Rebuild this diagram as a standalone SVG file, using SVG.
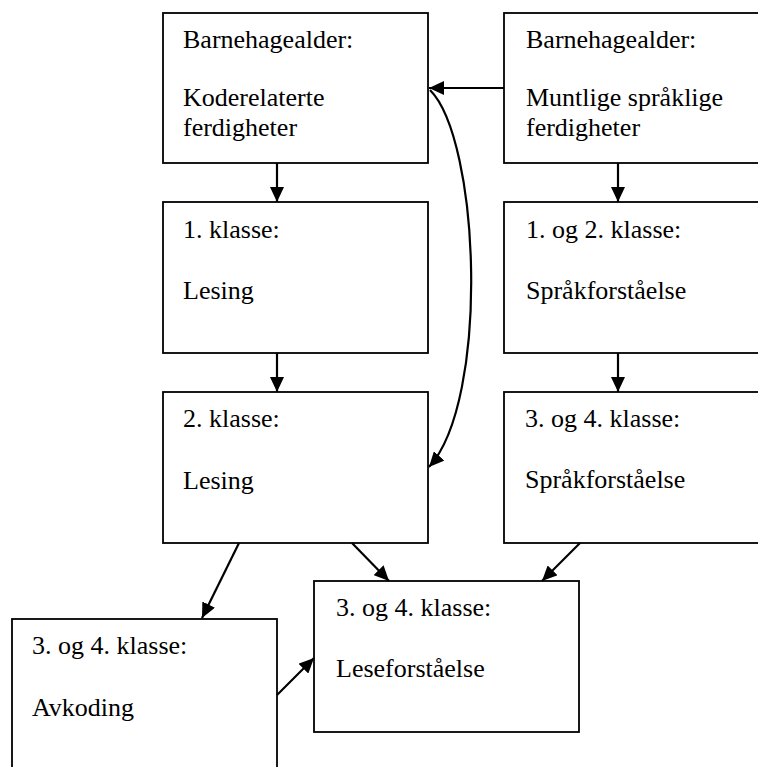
<svg xmlns="http://www.w3.org/2000/svg" width="758" height="767" viewBox="0 0 758 767">
<style>
.box{fill:#fff;stroke:#000;stroke-width:1.8}
.t{font-family:"Liberation Serif","Times New Roman",serif;font-size:26px;fill:#000}
.c{fill:none;stroke:#000;stroke-width:2.2}
</style>
<defs>
<marker id="ah" markerUnits="userSpaceOnUse" markerWidth="16" markerHeight="14" refX="15" refY="7" orient="auto">
<path d="M0,0 L15,7 L0,14 Z" fill="#000"/>
</marker>
</defs>
<rect width="758" height="767" fill="#fff"/>
<g id="n1"><rect class="box" x="163" y="13" width="265" height="150"/>
<text class="t" x="183" y="48">Barnehagealder:</text>
<text class="t" x="183" y="106">Koderelaterte</text>
<text class="t" x="183" y="136">ferdigheter</text></g>
<g id="n2"><rect class="box" x="504" y="13" width="265" height="150"/>
<text class="t" x="526" y="48">Barnehagealder:</text>
<text class="t" x="526" y="106">Muntlige språklige</text>
<text class="t" x="526" y="136">ferdigheter</text></g>
<g id="n3"><rect class="box" x="163" y="202" width="265" height="151"/>
<text class="t" x="183" y="238">1. klasse:</text>
<text class="t" x="183" y="299">Lesing</text></g>
<g id="n4"><rect class="box" x="504" y="202" width="265" height="151"/>
<text class="t" x="526" y="238">1. og 2. klasse:</text>
<text class="t" x="526" y="299">Språkforståelse</text></g>
<g id="n5"><rect class="box" x="163" y="392" width="265" height="151"/>
<text class="t" x="183" y="427">2. klasse:</text>
<text class="t" x="183" y="489">Lesing</text></g>
<g id="n6"><rect class="box" x="504" y="392" width="265" height="151"/>
<text class="t" x="525" y="427">3. og 4. klasse:</text>
<text class="t" x="525" y="488">Språkforståelse</text></g>
<g id="n7"><rect class="box" x="314" y="581" width="265" height="151"/>
<text class="t" x="336" y="616">3. og 4. klasse:</text>
<text class="t" x="336" y="677">Leseforståelse</text></g>
<g id="n8"><rect class="box" x="12" y="619" width="265" height="160"/>
<text class="t" x="32" y="654">3. og 4. klasse:</text>
<text class="t" x="32" y="716">Avkoding</text></g>
<g id="connectors">
<line class="c" x1="277" y1="163" x2="277" y2="202" marker-end="url(#ah)"/>
<line class="c" x1="618" y1="163" x2="618" y2="202" marker-end="url(#ah)"/>
<line class="c" x1="277" y1="353" x2="277" y2="392" marker-end="url(#ah)"/>
<line class="c" x1="618" y1="353" x2="618" y2="392" marker-end="url(#ah)"/>
<line class="c" x1="504" y1="88" x2="429" y2="88" marker-end="url(#ah)"/>
<path class="c" d="M430,90 C480,140 490,400 429,467" marker-end="url(#ah)"/>
<line class="c" x1="239" y1="543" x2="202" y2="618" marker-end="url(#ah)"/>
<line class="c" x1="352" y1="543" x2="389" y2="581" marker-end="url(#ah)"/>
<line class="c" x1="580" y1="543" x2="542" y2="581" marker-end="url(#ah)"/>
<line class="c" x1="277" y1="695" x2="314" y2="658" marker-end="url(#ah)"/>
</g>
</svg>
